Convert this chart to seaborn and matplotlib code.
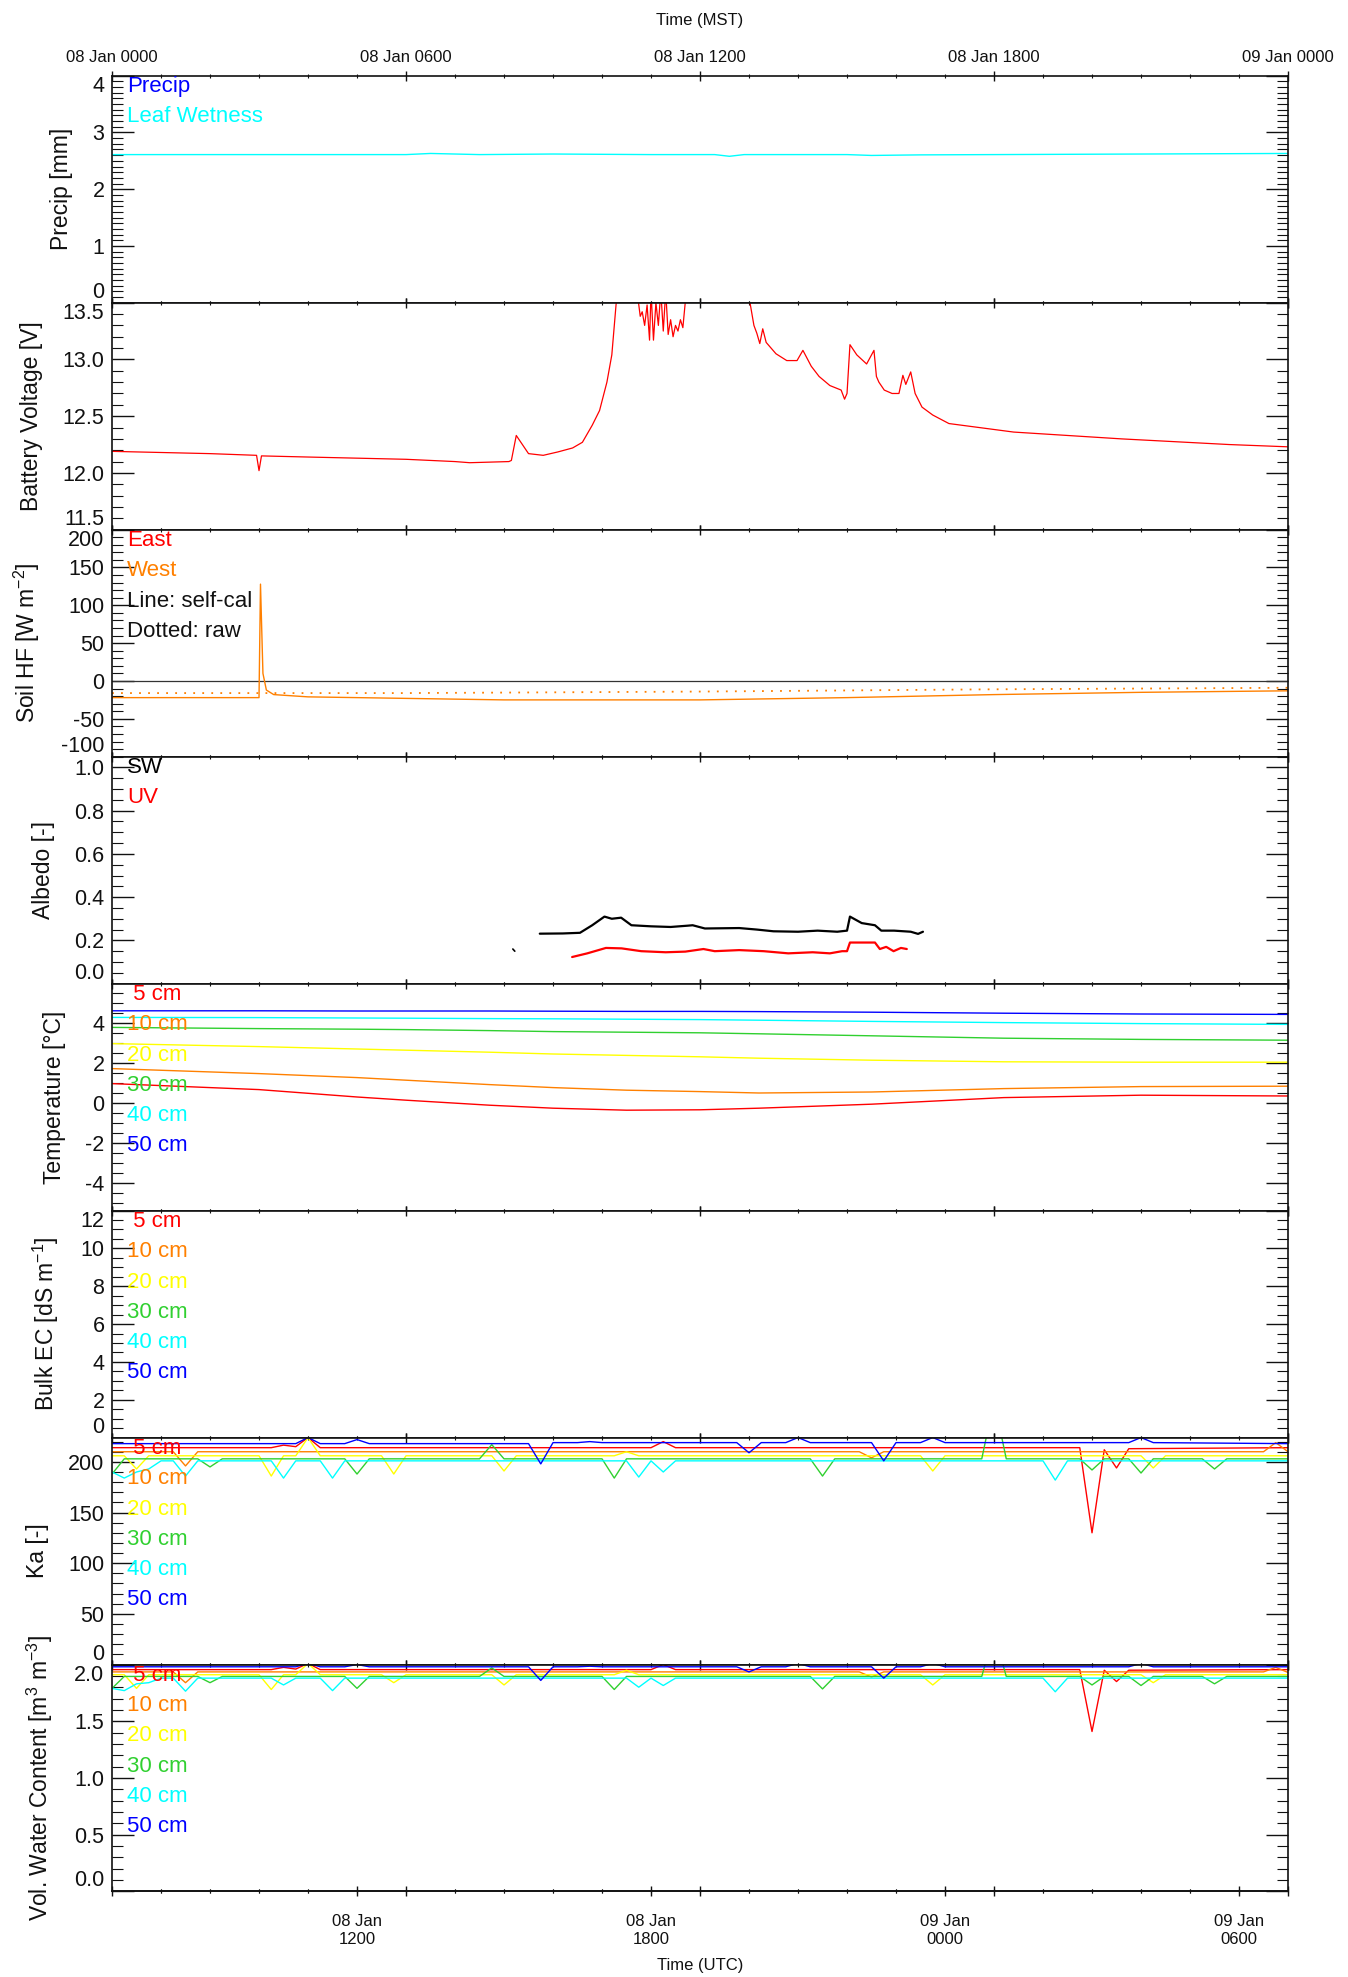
import numpy as np
import pandas as pd
import seaborn as sns
import matplotlib
matplotlib.use('Agg')
import matplotlib.pyplot as plt
from matplotlib.ticker import MultipleLocator, FormatStrFormatter

# 时间轴：从 08 Jan 0000 MST 起算的小时数
mst_ticks = [0, 6, 12, 18, 24]
mst_labels = ['08 Jan 0000', '08 Jan 0600', '08 Jan 1200', '08 Jan 1800', '09 Jan 0000']
utc_ticks = [5, 11, 17, 23]
utc_labels = ['08 Jan\n1200', '08 Jan\n1800', '09 Jan\n0000', '09 Jan\n0600']

depth_labels = [' 5 cm', '10 cm', '20 cm', '30 cm', '40 cm', '50 cm']
depth_colors = ['#ff0000', '#ff8000', '#ffff00', '#30d030', '#00ffff', '#0000ff']

# Precip / leaf wetness
precip_t = [0, 24]
precip_mm = [0, 0]
leaf_t = [0, 3, 6, 6.5, 7.5, 9, 11, 12.3, 12.6, 12.9, 15, 15.5, 16.5, 18, 21, 24]
leaf_v = [2.61, 2.61, 2.61, 2.63, 2.61, 2.62, 2.61, 2.61, 2.58, 2.61, 2.61, 2.595, 2.605, 2.61, 2.62, 2.63]

# Battery voltage
batt_t = [0, 1, 2, 2.95, 3.0, 3.05, 4, 5, 6, 7, 7.3, 8.1, 8.15, 8.25, 8.5, 8.8, 9.1, 9.4, 9.6,
          9.8, 9.95, 10.1, 10.2, 10.29, 10.5, 10.73, 10.78, 10.82, 10.87, 10.92, 10.97, 11.0,
          11.05, 11.1, 11.15, 11.2, 11.25, 11.3, 11.35, 11.4, 11.45, 11.5, 11.55, 11.6, 11.65,
          11.72, 12.3, 12.95, 13.02, 13.1, 13.16, 13.22, 13.28, 13.35, 13.45, 13.55, 13.77,
          13.98, 14.1, 14.27, 14.43, 14.65, 14.88, 14.95, 15.0, 15.06, 15.2, 15.4, 15.55, 15.6,
          15.65, 15.76, 15.92, 16.06, 16.14, 16.2, 16.3, 16.39, 16.53, 16.75, 17.08, 17.52,
          18.4, 19.5, 20.6, 21.7, 22.8, 24]
batt_v = [12.19, 12.18, 12.17, 12.155, 12.02, 12.15, 12.14, 12.13, 12.12, 12.10, 12.09, 12.10,
          12.11, 12.33, 12.17, 12.155, 12.185, 12.22, 12.27, 12.42, 12.55, 12.8, 13.04, 13.5,
          13.7, 13.55, 13.38, 13.42, 13.3, 13.48, 13.17, 13.6, 13.17, 13.5, 13.3, 13.6, 13.25,
          13.6, 13.22, 13.35, 13.2, 13.3, 13.25, 13.35, 13.28, 13.6, 13.6, 13.6, 13.5, 13.3,
          13.23, 13.14, 13.27, 13.15, 13.1, 13.05, 12.99, 12.99, 13.08, 12.94, 12.85, 12.77,
          12.73, 12.65, 12.7, 13.13, 13.04, 12.96, 13.08, 12.85, 12.8, 12.73, 12.70, 12.70,
          12.86, 12.78, 12.89, 12.70, 12.58, 12.51, 12.435, 12.41, 12.36, 12.33, 12.30,
          12.275, 12.25, 12.23]

# Soil heat flux
shf_west_t = [0, 3.0, 3.03, 3.08, 3.15, 3.3, 4, 8, 12, 15, 18, 21, 24]
shf_west_v = [-22, -22, 128, 10, -12, -18, -21, -25, -25, -22, -18, -15, -13]
shf_raw_t = [0, 6, 12, 18, 24]
shf_raw_v = [-16, -16, -14, -11, -9]

# Albedo
sw_t = [8.73, 9.2, 9.55, 9.8, 10.05, 10.2, 10.39, 10.6, 11.0, 11.4, 11.75, 11.85, 12.1, 12.8,
        13.16, 13.5, 14.0, 14.4, 14.8, 15.0, 15.06, 15.3, 15.57, 15.7, 15.96, 16.3, 16.45, 16.55]
sw_v = [0.231, 0.232, 0.235, 0.27, 0.31, 0.30, 0.305, 0.27, 0.265, 0.262, 0.268, 0.27, 0.255,
        0.257, 0.25, 0.242, 0.24, 0.245, 0.24, 0.245, 0.31, 0.28, 0.27, 0.245, 0.245, 0.24,
        0.23, 0.24]
sw_early_t = [8.18, 8.22]
sw_early_v = [0.16, 0.15]
uv_t = [9.39, 9.7, 10.08, 10.4, 10.8, 11.3, 11.7, 12.07, 12.3, 12.8, 13.3, 13.8, 14.3, 14.65,
        14.9, 15.0, 15.06, 15.57, 15.67, 15.8, 15.95, 16.1, 16.22]
uv_v = [0.123, 0.14, 0.165, 0.163, 0.15, 0.145, 0.148, 0.16, 0.15, 0.155, 0.15, 0.14, 0.145,
        0.14, 0.15, 0.15, 0.19, 0.19, 0.16, 0.17, 0.15, 0.165, 0.16]

# Soil temperature
temp_t = [0, 3, 5, 6, 7.7, 9, 10.5, 12, 13.2, 15.5, 18.2, 21, 24]
temp_5 = [0.95, 0.65, 0.28, 0.12, -0.13, -0.28, -0.38, -0.36, -0.28, -0.08, 0.25, 0.37, 0.33]
temp_10 = [1.70, 1.45, 1.25, 1.12, 0.90, 0.75, 0.62, 0.55, 0.48, 0.53, 0.70, 0.80, 0.82]
temp_20 = [2.95, 2.80, 2.68, 2.62, 2.52, 2.43, 2.36, 2.29, 2.22, 2.12, 2.04, 2.02, 2.02]
temp_30 = [3.76, 3.70, 3.67, 3.65, 3.60, 3.55, 3.52, 3.49, 3.44, 3.34, 3.22, 3.16, 3.12]
temp_40 = [4.26, 4.25, 4.23, 4.22, 4.20, 4.19, 4.17, 4.15, 4.12, 4.06, 4.00, 3.95, 3.91]
temp_50 = [4.59, 4.59, 4.58, 4.58, 4.58, 4.57, 4.56, 4.56, 4.55, 4.52, 4.47, 4.43, 4.41]

# Ka 和体积含水量（同一时间点）
ka5_t = [0, 3.25, 3.5, 3.75, 4.0, 4.25, 11.0, 11.25, 11.5, 19.75, 20.0, 20.25, 20.5, 20.75, 24]
ka5_v = [214, 214, 216.5, 215, 224, 214, 214, 220, 214, 214, 130, 212, 194, 213, 214]
vwc5_v = [1.955, 1.955, 1.975, 1.96, 2.01, 1.955, 1.955, 2.0, 1.955, 1.955, 1.41, 1.95, 1.85,
          1.95, 1.955]

ka10_t = [0, 1.25, 1.5, 1.75, 15.25, 15.5, 15.75, 23.5, 23.75, 24]
ka10_v = [210, 210, 196, 210, 210, 204, 210, 210, 219, 210]
vwc10_v = [1.935, 1.935, 1.84, 1.935, 1.935, 1.89, 1.935, 1.935, 1.975, 1.93]

ka20_t = [0, 0.25, 0.5, 0.75, 3.0, 3.25, 3.5, 3.75, 4.0, 4.25, 5.5, 5.75, 6.0, 7.75, 8.0, 8.25,
          10.25, 10.5, 10.75, 16.5, 16.75, 17.0, 21.0, 21.25, 21.5, 24]
ka20_v = [206, 206, 193, 206, 206, 186, 206, 206, 224, 206, 206, 188, 206, 206, 191, 206, 206,
          210, 206, 206, 191, 206, 206, 194, 206, 206]
vwc20_v = [1.91, 1.91, 1.79, 1.91, 1.91, 1.78, 1.91, 1.91, 2.01, 1.91, 1.91, 1.84, 1.91, 1.91,
           1.82, 1.91, 1.91, 1.95, 1.91, 1.91, 1.82, 1.91, 1.91, 1.84, 1.91, 1.91]

ka30_t = [0, 0.25, 1.75, 2.0, 2.25, 4.75, 5.0, 5.25, 7.5, 7.75, 8.0, 10.0, 10.25, 10.5, 14.25,
          14.5, 14.75, 17.75, 17.85, 18.15, 18.25, 19.75, 20.0, 20.25, 20.75, 21.0, 21.25,
          22.25, 22.5, 22.75, 24]
ka30_v = [188, 203, 203, 195, 203, 203, 188, 203, 203, 217, 203, 203, 184, 203, 203, 186, 203,
          203, 226, 226, 203, 203, 192, 203, 203, 189, 203, 203, 193, 203, 203]
vwc30_v = [1.79, 1.895, 1.895, 1.84, 1.895, 1.895, 1.79, 1.895, 1.895, 1.97, 1.895, 1.895,
           1.78, 1.895, 1.895, 1.785, 1.895, 1.895, 2.05, 2.05, 1.895, 1.895, 1.82, 1.895,
           1.895, 1.815, 1.895, 1.895, 1.83, 1.895, 1.895]

ka40_t = [0, 0.25, 0.5, 0.75, 1.0, 1.25, 1.5, 1.75, 3.25, 3.5, 3.75, 4.25, 4.5, 4.75, 10.5,
          10.75, 11.0, 11.25, 11.5, 19.0, 19.25, 19.5, 24]
ka40_v = [190, 184, 190, 193, 201, 201, 186, 201, 201, 184, 201, 201, 184, 201, 201, 185, 201,
          190, 201, 201, 182, 201, 201]
vwc40_v = [1.79, 1.77, 1.83, 1.84, 1.88, 1.88, 1.765, 1.88, 1.88, 1.82, 1.88, 1.88, 1.77, 1.88,
           1.88, 1.80, 1.88, 1.815, 1.88, 1.88, 1.76, 1.88, 1.88]

ka50_t = [0, 3.75, 4.0, 4.25, 4.75, 5.0, 5.25, 8.5, 8.75, 9.0, 9.5, 9.75, 10.0, 12.75, 13.0,
          13.25, 13.75, 14.0, 14.25, 15.5, 15.75, 16.0, 16.5, 16.75, 17.0, 20.75, 21.0, 21.25, 24]
ka50_v = [218, 218, 224, 218, 218, 222, 218, 218, 198, 219, 219, 220, 219, 219, 209, 219, 219,
          224, 219, 219, 201, 219, 219, 224, 219, 219, 224, 219, 218]
vwc50_v = [1.98, 1.98, 2.01, 1.98, 1.98, 2.0, 1.98, 1.98, 1.86, 1.98, 1.98, 1.985, 1.98, 1.98,
           1.935, 1.98, 1.98, 2.01, 1.98, 1.98, 1.88, 1.98, 1.98, 2.01, 1.98, 1.98, 2.01, 1.98,
           1.98]

sns.set_theme(style='ticks')
plt.rcParams['font.family'] = ['Liberation Sans', 'DejaVu Sans']
plt.rcParams['mathtext.default'] = 'regular'
plt.rcParams['axes.unicode_minus'] = False
plt.rcParams['axes.linewidth'] = 1.2
plt.rcParams['axes.edgecolor'] = '#111111'

fig, axes = plt.subplots(8, 1, figsize=(13.48, 19.77), dpi=100, sharex=True)
fig.subplots_adjust(left=0.0831, right=0.9555, top=0.9617, bottom=0.04325, hspace=0)


def line(ax, t, v, color, lw=1.0):
    sns.lineplot(x=t, y=v, ax=ax, color=color, linewidth=lw, estimator=None, sort=False,
                 legend=False)


def add_labels(ax, items):
    for i, (txt, col) in enumerate(items):
        ax.text(0.0128, 0.952 - i * 0.1334, txt, color=col, fontsize=16, va='center',
                ha='left', transform=ax.transAxes)


def setup_y(ax, label, lo, hi, major, minor, fmt=None):
    ax.set_ylim(lo, hi)
    ticks = np.arange(np.ceil(lo / major) * major, hi + major * 0.01, major)
    ax.set_yticks(ticks)
    ax.yaxis.set_minor_locator(MultipleLocator(minor))
    if fmt:
        ax.yaxis.set_major_formatter(FormatStrFormatter(fmt))
    ax.set_ylabel(label, fontsize=16.5, labelpad=14, color='#111111')
    ax.tick_params(axis='y', which='both', left=True, right=True, direction='in',
                   labelsize=15.5, colors='#111111', pad=5.5)
    ax.tick_params(axis='y', which='major', length=15.8, width=1.0)
    ax.tick_params(axis='y', which='minor', length=7.9, width=0.8)
    # 边缘刻度标签往里收，避免和相邻面板重叠
    for tk, val in zip(ax.yaxis.get_major_ticks(), ticks):
        if np.isclose(val, lo):
            tk.label1.set_va('bottom')
        elif np.isclose(val, hi):
            tk.label1.set_va('top')


# 1. Precip
ax = axes[0]
line(ax, precip_t, precip_mm, '#0000ff')
line(ax, leaf_t, leaf_v, '#00ffff')
setup_y(ax, 'Precip [mm]', 0, 4, 1, 0.1)
add_labels(ax, [('Precip', '#0000ff'), ('Leaf Wetness', '#00ffff')])

# 2. Battery
ax = axes[1]
line(ax, batt_t, batt_v, '#ff0000', lw=0.9)
setup_y(ax, 'Battery Voltage [V]', 11.5, 13.5, 0.5, 0.1, '%.1f')

# 3. Soil HF
ax = axes[2]
ax.axhline(0, color='#333333', lw=0.9)
line(ax, shf_west_t, shf_west_v, '#ff8000')
ax.plot(shf_raw_t, shf_raw_v, color='#ff8000', lw=1.3, linestyle=(0, (1, 4)))
setup_y(ax, 'Soil HF [W m$^{-2}$]', -100, 200, 50, 10)
add_labels(ax, [('East', '#ff0000'), ('West', '#ff8000'), ('Line: self-cal', '#111111'),
                ('Dotted: raw', '#111111')])

# 4. Albedo
ax = axes[3]
line(ax, sw_t, sw_v, '#000000', lw=1.6)
line(ax, sw_early_t, sw_early_v, '#000000', lw=1.2)
line(ax, uv_t, uv_v, '#ff0000', lw=1.6)
setup_y(ax, 'Albedo [-]', 0, 1.05, 0.2, 0.05, '%.1f')
add_labels(ax, [('SW', '#000000'), ('UV', '#ff0000')])

# 5. Temperature
ax = axes[4]
for vals, col in zip([temp_5, temp_10, temp_20, temp_30, temp_40, temp_50], depth_colors):
    line(ax, temp_t, vals, col)
setup_y(ax, 'Temperature [°C]', -5.4, 5.95, 2, 0.5)
add_labels(ax, list(zip(depth_labels, depth_colors)))

# 6. Bulk EC (无数据)
ax = axes[5]
setup_y(ax, 'Bulk EC [dS m$^{-1}$]', 0, 12, 2, 0.5)
add_labels(ax, list(zip(depth_labels, depth_colors)))

# 7. Ka
ax = axes[6]
ka_sets = [(ka5_t, ka5_v), (ka10_t, ka10_v), (ka20_t, ka20_v), (ka30_t, ka30_v),
           (ka40_t, ka40_v), (ka50_t, ka50_v)]
for (t, v), col in zip(ka_sets, depth_colors):
    line(ax, t, v, col)
setup_y(ax, 'Ka [-]', 0, 224, 50, 10)
add_labels(ax, list(zip(depth_labels, depth_colors)))

# 8. VWC
ax = axes[7]
vwc_sets = [(ka5_t, vwc5_v), (ka10_t, vwc10_v), (ka20_t, vwc20_v), (ka30_t, vwc30_v),
            (ka40_t, vwc40_v), (ka50_t, vwc50_v)]
for (t, v), col in zip(vwc_sets, depth_colors):
    line(ax, t, v, col)
setup_y(ax, 'Vol. Water Content [m$^3$ m$^{-3}$]', 0, 2.0, 0.5, 0.1, '%.1f')
add_labels(ax, list(zip(depth_labels, depth_colors)))

# x 轴
axes[0].set_xlim(0, 24)
axes[0].set_xticks(mst_ticks, mst_labels)
axes[0].xaxis.set_minor_locator(MultipleLocator(1))
for a in axes:
    a.tick_params(axis='x', which='both', top=True, bottom=True, direction='inout',
                  labelbottom=False, labeltop=False, colors='#111111')
    a.tick_params(axis='x', which='major', length=7, width=1.0)
    a.tick_params(axis='x', which='minor', length=3.5, width=0.8)
axes[0].tick_params(axis='x', labeltop=True, labelsize=12, pad=4)
axes[0].xaxis.set_label_position('top')
axes[0].set_xlabel('Time (MST)', fontsize=12, labelpad=18, color='#111111')
axes[0].xaxis.label.set_visible(True)

sec = axes[-1].secondary_xaxis('bottom')
sec.set_xticks(utc_ticks, utc_labels)
sec.xaxis.set_minor_locator(MultipleLocator(1))
sec.tick_params(axis='x', which='major', direction='inout', length=7, width=1.0,
                labelsize=12, pad=13, colors='#111111')
sec.tick_params(axis='x', which='minor', direction='inout', length=3.5, width=0.8)
sec.set_xlabel('Time (UTC)', fontsize=12, labelpad=8, color='#111111')

fig.savefig('out.png', dpi=100)
